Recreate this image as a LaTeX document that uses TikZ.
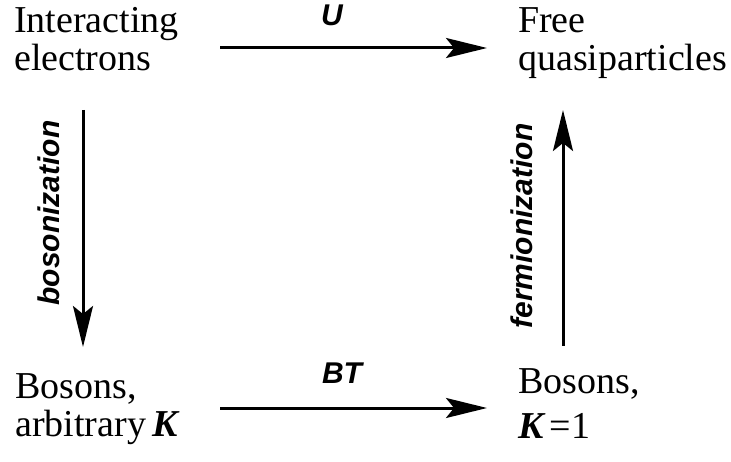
\documentclass[tikz,border=0pt]{standalone}
\usepackage{fontspec}
\setmainfont{Liberation Serif}
\newfontfamily\lsans{Liberation Sans}
\usetikzlibrary{arrows.meta}
\tikzset{
  txt/.style={anchor=base west, inner sep=0pt, font=\fontsize{38}{38}\selectfont},
  lbl/.style={inner sep=0pt, font=\lsans\bfseries\itshape\fontsize{30}{30}\selectfont},
  arr/.style={line width=3pt, -{Stealth[length=41pt, width=20pt, inset=8pt]}}
}
\begin{document}
\begin{tikzpicture}[x=1pt, y=-1pt]
\useasboundingbox[fill=white] (0,0) rectangle (731,462);
% text blocks
\node[txt] (tl1) at (14,33) {Interacting};
\node[txt] (tl2) at (14,71) {electrons};
\node[txt] (tr1) at (518,33) {Free};
\node[txt] (tr2) at (518,71) {quasiparticles};
\node[txt] (bl1) at (15,398) {Bosons,};
\node[txt] (bl2) at (15,436) {arbitrary\,\textbf{\textit{K}}};
\node[txt] (br1) at (518,393) {Bosons,};
\node[txt] (br2) at (518,438) {\textbf{\textit{K}}\kern4pt=1};
% arrow end points
\coordinate (ta) at (220,48);
\coordinate (tb) at (487,48);
\coordinate (ba) at (220,408);
\coordinate (bb) at (487,408);
\coordinate (la) at (83,110);
\coordinate (lb) at (83,347);
\coordinate (ra) at (563,346);
\coordinate (rb) at (563,110);
% arrows
\draw[arr] (ta) -- (tb);
\draw[arr] (ba) -- (bb);
\draw[arr] (la) -- (lb);
\draw[arr] (ra) -- (rb);
% labels
\node[lbl] (lu) at (332,15) {U};
\node[lbl] (lbt) at (342,373) {BT};
\node[lbl, rotate=90] (lbos) at (49,213) {bosonization};
\node[lbl, rotate=90] (lfer) at (522,226) {fermionization};
\end{tikzpicture}
\end{document}
